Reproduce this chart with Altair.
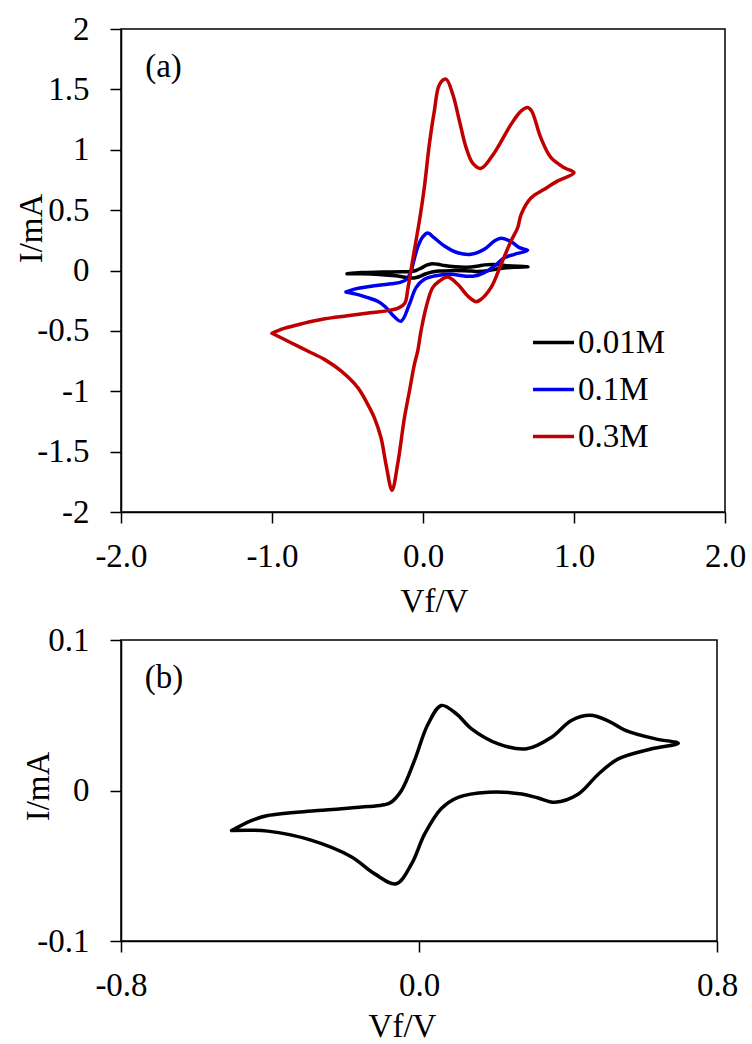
import altair as alt
import pandas as pd

FONT = "Liberation Serif"
FS = 33

# Cyclic voltammograms. Each loop starts at the negative vertex, follows the
# upper (anodic) branch to the positive vertex and returns along the lower branch.
v_001 = [-0.503, -0.45, -0.406, -0.272, -0.137, -0.093, -0.075, -0.047, -0.012, 0.024,
         0.06, 0.10, 0.141, 0.213, 0.289, 0.356, 0.409, 0.46, 0.51, 0.554, 0.635, 0.696,
         0.625, 0.535, 0.482, 0.428, 0.365, 0.32, 0.276, 0.186, 0.105, 0.06, 0.015,
         -0.02, -0.061, -0.119, -0.182, -0.29, -0.406, -0.503]
i_001 = [-0.0266, -0.020, -0.0166, -0.0133, -0.0107, -0.0095, -0.0078, 0.0, 0.020, 0.044,
         0.0565, 0.051, 0.041, 0.031, 0.0277, 0.0354, 0.0465, 0.050, 0.046, 0.040, 0.0343, 0.0314,
         0.0277, 0.021, 0.011, -0.0023, -0.0078, -0.005, -0.0023, -0.0011, -0.0045, -0.012, -0.029,
         -0.0488, -0.062, -0.0554, -0.044, -0.033, -0.027, -0.0266]

v_01 = [-0.51, -0.44, -0.366, -0.28, -0.21, -0.15, -0.11, -0.08, -0.057, -0.03, 0.0, 0.03,
        0.075, 0.142, 0.23, 0.318, 0.406, 0.473, 0.517, 0.583, 0.638, 0.693,
        0.605, 0.539, 0.473, 0.406, 0.34, 0.274, 0.186, 0.075, 0.009, -0.046, -0.09,
        -0.146, -0.20, -0.25, -0.30, -0.366, -0.43, -0.51]
i_01 = [-0.178, -0.15, -0.135, -0.12, -0.11, -0.098, -0.075, -0.01, 0.10, 0.21, 0.28, 0.31,
        0.27, 0.203, 0.147, 0.134, 0.176, 0.244, 0.267, 0.239, 0.189, 0.167,
        0.134, 0.106, 0.037, -0.018, -0.046, -0.046, -0.032, -0.046, -0.073, -0.142, -0.28,
        -0.42, -0.37, -0.30, -0.255, -0.225, -0.20, -0.178]

v_03 = [-1.00, -0.92, -0.80, -0.65, -0.50, -0.35, -0.22, -0.16, -0.12, -0.10, -0.08, -0.05,
        -0.024, 0.009, 0.042, 0.075, 0.109, 0.152, 0.197, 0.241, 0.285, 0.329, 0.384,
        0.473, 0.583, 0.649, 0.693, 0.72, 0.78, 0.848, 0.936, 1.00,
        0.89, 0.80, 0.715, 0.65, 0.627, 0.583, 0.517, 0.45, 0.384, 0.351, 0.296, 0.23,
        0.164, 0.109, 0.064, 0.02, -0.013, -0.035, -0.057, -0.09, -0.123, -0.168, -0.205,
        -0.245, -0.278, -0.322, -0.366, -0.432, -0.543, -0.653, -0.764, -0.874, -1.00]
i_03 = [-0.52, -0.48, -0.44, -0.40, -0.375, -0.35, -0.33, -0.31, -0.27, -0.15, 0.0, 0.22,
        0.41, 0.69, 1.045, 1.32, 1.54, 1.585, 1.46, 1.24, 1.02, 0.89, 0.846,
        0.976, 1.21, 1.32, 1.35, 1.32, 1.10, 0.934, 0.851, 0.81,
        0.74, 0.67, 0.60, 0.465, 0.354, 0.244, 0.051, -0.142, -0.239, -0.258, -0.211, -0.114,
        -0.054, -0.087, -0.142, -0.308, -0.50, -0.667, -0.777, -1.0, -1.22, -1.605, -1.82,
        -1.605, -1.385, -1.22, -1.108, -0.97, -0.832, -0.736, -0.667, -0.598, -0.52]

series_names = ["0.01M", "0.1M", "0.3M"]
series_colors = ["#000000", "#0000F0", "#C00000"]

y_ticks_a = [-2, -1.5, -1, -0.5, 0, 0.5, 1, 1.5, 2]
x_ticks_a = [-2, -1, 0, 1, 2]
y_ticks_b = [-0.1, 0, 0.1]
x_ticks_b = [-0.8, 0, 0.8]

panel_text = ["(a)", "(b)"]
panel_v = [-1.84, -0.736]
panel_i = [1.60, 0.068]


def loop(name, vs, cs):
    return pd.DataFrame({"series": name, "V": vs, "I": cs, "step": list(range(len(vs)))})


df_a = pd.concat([loop("0.01M", v_001, i_001),
                  loop("0.1M", v_01, i_01),
                  loop("0.3M", v_03, i_03)], ignore_index=True)
df_b = loop("0.01M", v_001, i_001)

fixed1 = "replace(format(datum.value, '.1f'), '\u2212', '-')"
plain = "'' + datum.value"

common_axis = dict(labelFlush=False, labelOverlap=False, grid=False)


def line_layer(df, xenc, yenc, legend):
    return alt.Chart(df).mark_line(
        interpolate="catmull-rom", strokeWidth=3.5, strokeCap="round", strokeJoin="round"
    ).encode(
        x=xenc, y=yenc,
        color=alt.Color("series:N",
                        scale=alt.Scale(domain=series_names, range=series_colors),
                        legend=legend),
        order="step:Q",
    )


def label_layer(k):
    d = pd.DataFrame({"V": [panel_v[k]], "I": [panel_i[k]], "t": [panel_text[k]]})
    return alt.Chart(d).mark_text(
        align="left", baseline="alphabetic", font=FONT, fontSize=FS, color="black"
    ).encode(x="V:Q", y="I:Q", text="t:N")


# ---- panel (a)
xa = alt.X("V:Q", scale=alt.Scale(domain=[-2, 2], nice=False, zero=False),
           axis=alt.Axis(values=x_ticks_a, labelExpr=fixed1, title="Vf/V",
                         titleX=313, titleY=99, titleBaseline="alphabetic", **common_axis))
ya = alt.Y("I:Q", scale=alt.Scale(domain=[-2, 2], nice=False, zero=False),
           axis=alt.Axis(values=y_ticks_a, labelExpr=plain, title="I/mA",
                         titleAngle=270, titleX=-80, titleY=199,
                         titleBaseline="alphabetic", **common_axis))
legend_a = alt.Legend(orient="none", legendX=410, legendY=291, title=None,
                      symbolType="stroke", symbolSize=1681, symbolStrokeWidth=3.5,
                      labelFont=FONT, labelFontSize=FS, labelColor="black",
                      labelOffset=2, rowPadding=7, padding=0)

panel_a = alt.layer(
    line_layer(df_a, xa, ya, legend_a),
    label_layer(0).encode(x=alt.X("V:Q"), y=alt.Y("I:Q")),
).properties(width=604, height=483)

# ---- panel (b)
xb = alt.X("V:Q", scale=alt.Scale(domain=[-0.8, 0.8], nice=False, zero=False),
           axis=alt.Axis(values=x_ticks_b, labelExpr=fixed1, title="Vf/V",
                         titleX=281, titleY=95, titleBaseline="alphabetic", **common_axis))
yb = alt.Y("I:Q", scale=alt.Scale(domain=[-0.1, 0.1], nice=False, zero=False),
           axis=alt.Axis(values=y_ticks_b, labelExpr=plain, title="I/mA",
                         titleAngle=270, titleX=-73, titleY=146,
                         titleBaseline="alphabetic", **common_axis))

panel_b = alt.layer(
    line_layer(df_b, xb, yb, None),
    label_layer(1).encode(x=alt.X("V:Q"), y=alt.Y("I:Q")),
).properties(width=596, height=301)

chart = alt.vconcat(panel_a, panel_b, spacing=4).resolve_scale(
    x="independent", y="independent", color="independent"
).properties(
    padding={"left": 14, "top": 12, "right": 4, "bottom": 2},
    background="white",
).configure_view(
    stroke="black", strokeWidth=1.5
).configure_axis(
    domainColor="black", domainWidth=1.5,
    tickColor="black", tickWidth=1.5, tickSize=11,
    labelFont=FONT, labelFontSize=FS, labelColor="black", labelPadding=17,
    titleFont=FONT, titleFontSize=FS, titleColor="black", titleFontWeight="normal",
).configure_axisY(
    labelPadding=21
)

chart.save("out.html", embed_options={"renderer": "svg", "actions": False})
